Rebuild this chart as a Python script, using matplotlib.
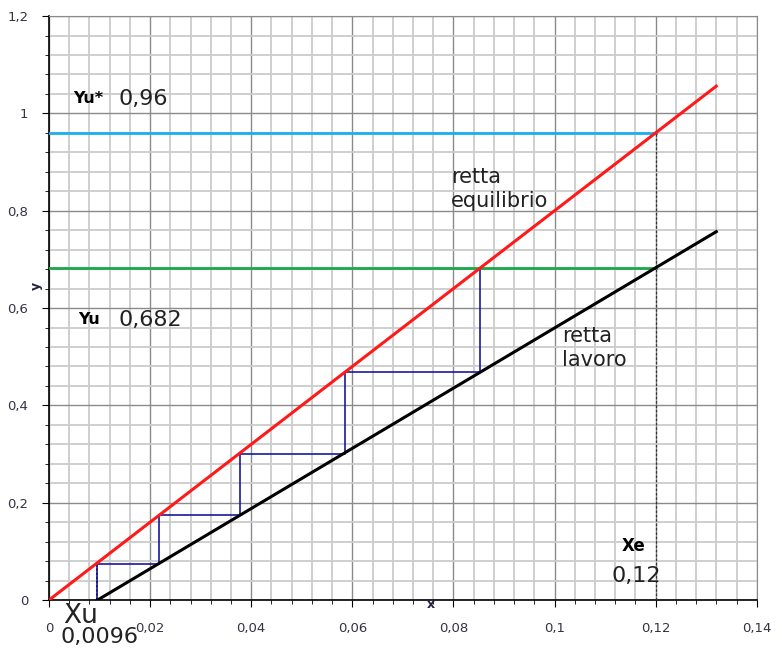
import matplotlib
matplotlib.use('Agg')
import matplotlib.pyplot as plt
from matplotlib.ticker import MultipleLocator, FuncFormatter

# equilibrium line (red) and operating line (black)
eq_x = [0.0, 0.132]
eq_y = [0.0, 1.056]
op_x = [0.0096, 0.132]
op_y = [0.0, 0.757]

# horizontal reference lines
yu_star = 0.96
yu = 0.682
xe = 0.12
xu = 0.0096

# stage corners (x on equilibrium line, y level)
stage_x = [0.12, 0.0853, 0.0585, 0.0377, 0.0217, 0.0094]
stage_y = [0.682, 0.468, 0.301, 0.174, 0.075, 0.0]

fig = plt.figure(figsize=(7.82, 6.51), dpi=100)
ax = fig.add_axes([0.0627, 0.0783, 0.905, 0.897])
ax.set_xlim(0, 0.14)
ax.set_ylim(0, 1.2)

ax.xaxis.set_major_locator(MultipleLocator(0.02))
ax.xaxis.set_minor_locator(MultipleLocator(0.004))
ax.yaxis.set_major_locator(MultipleLocator(0.2))
ax.yaxis.set_minor_locator(MultipleLocator(0.04))

fmt = FuncFormatter(lambda v, p: ('%g' % round(v, 3)).replace('.', ','))
ax.xaxis.set_major_formatter(fmt)
ax.yaxis.set_major_formatter(fmt)

ax.grid(True, which='minor', color='#cccccc', linewidth=1.3, zorder=0)
ax.grid(True, which='major', color='#8a8a8a', linewidth=1.0, zorder=0)
ax.set_axisbelow(True)
for s in ['top', 'right']:
    ax.spines[s].set_color('#8a8a8a')
ax.spines['left'].set_linewidth(1.2)
ax.spines['bottom'].set_linewidth(1.2)
ax.tick_params(which='both', direction='out', color='black')
ax.tick_params(which='major', length=5, labelsize=9.5, labelcolor='#333344', pad=11)
ax.tick_params(which='minor', length=3)
ax.tick_params(axis='y', which='major', pad=10)

# reference lines
ax.plot([0, xe], [yu_star, yu_star], color='#1ab0ee', lw=2, zorder=3)
ax.plot([0, xe], [yu, yu], color='#1aa84a', lw=2, zorder=3)
ax.plot([xe, xe], [0, yu_star], color='#333333', lw=0.9, ls=(0, (2, 1.5)), zorder=3)
ax.plot([stage_x[-1], stage_x[-1]], [0, stage_y[-2]], color='black', lw=1.2, ls=(0, (1.5, 1)), zorder=4)

# stages
sx, sy = [], []
for i in range(len(stage_x) - 1):
    sx += [stage_x[i], stage_x[i + 1], stage_x[i + 1]]
    sy += [stage_y[i], stage_y[i], stage_y[i + 1]]
ax.plot(sx[1:], sy[1:], color='#1a1a99', lw=1.2, zorder=4)

ax.plot(eq_x, eq_y, color='#ff1a1a', lw=2.2, zorder=5)
ax.plot(op_x, op_y, color='black', lw=2.2, zorder=5)

# annotations
ax.text(0.0048, 1.03, 'Yu*', fontsize=11.5, fontweight='bold', ha='left', va='center')
ax.text(0.0137, 1.03, '0,96', fontsize=16, color='#222222', ha='left', va='center')
ax.text(0.0058, 0.576, 'Yu', fontsize=11.5, fontweight='bold', ha='left', va='center')
ax.text(0.0137, 0.576, '0,682', fontsize=16, color='#222222', ha='left', va='center')
ax.text(0.0795, 0.845, 'retta\nequilibrio', fontsize=15, color='#222222', ha='left', va='center',
        linespacing=1.25)
ax.text(0.1015, 0.518, 'retta\nlavoro', fontsize=15, color='#222222', ha='left', va='center',
        linespacing=1.25)
ax.text(0.1133, 0.112, 'Xe', fontsize=12, fontweight='bold', ha='left', va='center')
ax.text(0.1113, 0.05, '0,12', fontsize=16, color='#222222', ha='left', va='center')
ax.text(0.0028, -0.033, 'Xu', fontsize=19, color='#222222', ha='left', va='center', clip_on=False)
ax.text(0.0022, -0.077, '0,0096', fontsize=16, color='#222222', ha='left', va='center', clip_on=False)
ax.text(0.0755, -0.01, 'x', fontsize=9, fontweight='bold', color='#222244', ha='center', va='center',
        clip_on=False)
ax.text(-0.0012, 0.645, 'y', fontsize=9, fontweight='bold', color='#222244', ha='right', va='center',
        rotation=90, clip_on=False)

fig.savefig('out.png', dpi=100)
